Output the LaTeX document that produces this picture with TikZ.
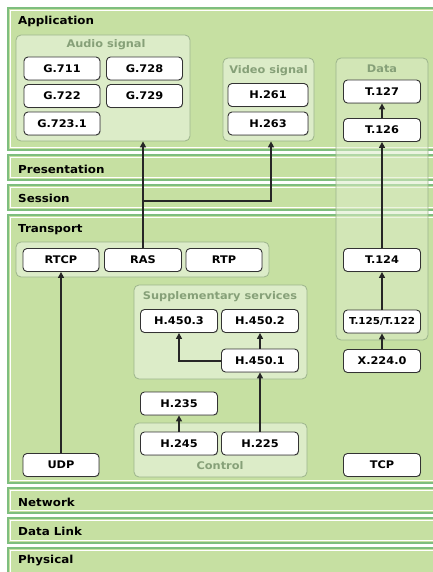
\documentclass[tikz,border=0pt]{standalone}
\usepackage{fontspec}
\setmainfont{DejaVu Sans}[FakeStretch=1.08]
\usetikzlibrary{arrows.meta,shadows}
\definecolor{bandfill}{HTML}{C6E0A2}
\definecolor{bandline}{HTML}{7EBE7E}
\definecolor{boxfill}{HTML}{DCECC8}
\definecolor{boxline}{HTML}{9CB48C}
\definecolor{titlecol}{HTML}{86A078}
\tikzset{
  band/.style={fill=bandfill, draw=bandline, line width=1.5pt},
  bandin/.style={draw=white, line width=0.9pt},
  layer/.style={anchor=west, font=\bfseries\fontsize{11}{12}\selectfont, inner sep=0pt},
  grp/.style={draw=boxline, fill=boxfill, line width=0.8pt, rounded corners=5pt, inner sep=0pt},
  grptitle/.style={font=\bfseries\fontsize{10.5}{12}\selectfont, text=titlecol, inner sep=0pt},
  proto/.style={draw=black!80, fill=white, line width=0.9pt, rounded corners=4pt,
    minimum width=77pt, minimum height=23pt, inner sep=0pt,
    font=\bfseries\fontsize{10.5}{12}\selectfont,
    drop shadow={shadow xshift=0.7pt, shadow yshift=-0.7pt, opacity=0.35}},
  link/.style={draw=black!85, line width=2pt, -{Triangle[width=6pt,length=6pt]}}
}
\begin{document}
\begin{tikzpicture}[x=1pt,y=-1pt]
\useasboundingbox (0,0) rectangle (433,572);
\clip (0,0) rectangle (433,572);
\fill[white] (0,0) rectangle (433,572);
% bands
\foreach \a/\b in {8/150,155/180,185/210,215/483,488/513,518/543,548/580}{
  \draw[band] (8,\a) rectangle (445,\b);
  \draw[bandin] (10.5,\a+2.5) rectangle (445,\b-2.5);
}
\node[layer] (lapp) at (18,21) {Application};
\node[layer] (lpres) at (18,169) {Presentation};
\node[layer] (lsess) at (18,198) {Session};
\node[layer] (ltrans) at (18,230) {Transport};
\node[layer] (lnet) at (18,502) {Network};
\node[layer] (ldl) at (18,531) {Data Link};
\node[layer] (lphys) at (18,561) {Physical};
% data column (translucent)
\node[grp, fill opacity=0.55, minimum width=92pt, minimum height=282pt] (data) at (382,199) {};
\node[grptitle] (datat) at (382,69) {Data};
% containers
\node[grp, minimum width=174pt, minimum height=106pt] (audio) at (103,88) {};
\node[grptitle] (audiot) at (106,45) {Audio signal};
\node[grp, minimum width=91pt, minimum height=83pt] (video) at (268.5,99.5) {};
\node[grptitle] (videot) at (268.5,71) {Video signal};
\node[grp, minimum width=253pt, minimum height=35pt] (trans) at (142.5,259.5) {};
\node[grp, minimum width=173pt, minimum height=94pt] (supp) at (220.5,332) {};
\node[grptitle] (suppt) at (220,297) {Supplementary services};
\node[grp, minimum width=173pt, minimum height=54pt] (ctrl) at (220.5,450) {};
\node[grptitle] (ctrlt) at (220,466) {Control};
% protocol boxes
\node[proto, minimum width=76pt] (g711) at (62,68.5) {G.711};
\node[proto, minimum width=76pt] (g728) at (144.5,68.5) {G.728};
\node[proto, minimum width=76pt] (g722) at (62,96) {G.722};
\node[proto, minimum width=76pt] (g729) at (144.5,96) {G.729};
\node[proto, minimum width=76pt] (g7231) at (62,123.5) {G.723.1};
\node[proto, minimum width=80pt] (h261) at (268,95) {H.261};
\node[proto, minimum width=80pt] (h263) at (268,123.5) {H.263};
\node[proto] (t127) at (382,91.5) {T.127};
\node[proto] (t126) at (382,130) {T.126};
\node[proto] (t124) at (382,260) {T.124};
\node[proto, font=\bfseries\fontsize{9.6}{11}\selectfont] (t125) at (382,321.5) {T.125/T.122};
\node[proto] (x224) at (382,361) {X.224.0};
\node[proto] (tcp) at (382,465) {TCP};
\node[proto, minimum width=76pt] (rtcp) at (61,260) {RTCP};
\node[proto] (ras) at (143,260) {RAS};
\node[proto, minimum width=76pt] (rtp) at (224,260) {RTP};
\node[proto] (h4503) at (179,321) {H.450.3};
\node[proto] (h4502) at (260,321) {H.450.2};
\node[proto] (h4501) at (260,360.5) {H.450.1};
\node[proto] (h235) at (179,403.5) {H.235};
\node[proto] (h245) at (179,443.5) {H.245};
\node[proto] (h225) at (260,443.5) {H.225};
\node[proto, minimum width=76pt] (udp) at (61,465) {UDP};
% connectors
\coordinate (split) at (143,201);
\coordinate (vturn) at (271,201);
\draw[link] (udp.north) -- (rtcp.south);
\draw[link] (ras.north) -- (ras.north |- audio.south);
\draw[link] (split) -- (vturn) -- (vturn |- video.south);
\draw[link] (t124.north) -- (t126.south);
\draw[link] (t126.north) -- (t127.south);
\draw[link] (t125.north) -- (t124.south);
\draw[link] (x224.north) -- (t125.south);
\draw[link] (h4501.north) -- (h4502.south);
\draw[link] (h4501.west) -| (h4503.south);
\draw[link] (h225.north) -- (h4501.south);
\draw[link] (h245.north) -- (h235.south);
\end{tikzpicture}
\end{document}
